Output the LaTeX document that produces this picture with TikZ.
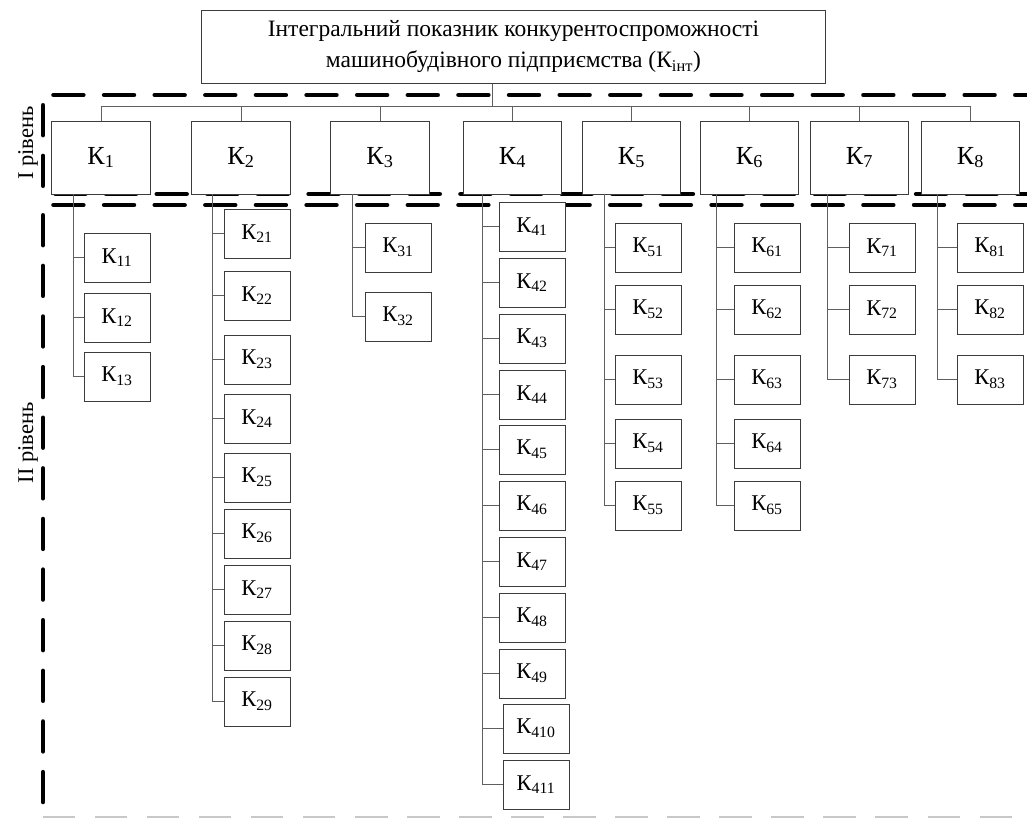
\documentclass[tikz,border=0pt]{standalone}
\usepackage{fontspec}
\setmainfont{Liberation Serif}
\usepackage{tikz}
\definecolor{edge}{RGB}{60, 60, 60}
\definecolor{wire}{RGB}{95, 95, 95}
\definecolor{faint}{RGB}{200, 200, 200}

\begin{document}
\begin{tikzpicture}[x=0.025cm, y=-0.025cm,
  tier/.style={draw=edge, fill=white, line width=0.7pt, inner sep=0pt,
    minimum width=2.45cm, minimum height=1.825cm, font=\fontsize{18.5}{20}\selectfont},
  leaf/.style={draw=edge, fill=white, line width=0.7pt, inner sep=0pt,
    minimum width=1.65cm, minimum height=1.225cm, font=\fontsize{16}{18}\selectfont},
  link/.style={draw=wire, line width=0.6pt},
  zone/.style={line width=3.5pt, line cap=round, dash pattern=on 21pt off 15pt}]
  \path[use as bounding box, fill=white] (0, 0) rectangle (1027, 818);

  % levels
  \draw[zone] (1045, 95) -- (43, 95) -- (43, 194) -- (1045, 194);
  \draw[zone] (1045, 205) -- (43, 205) -- (43, 805);
  \draw[faint, line width=1.4pt, dash pattern=on 23pt off 14pt] (43, 817) -- (1040, 817);
  \node[rotate=90, font=\fontsize{16}{18}\selectfont] (lvl1) at (28, 143) {I рівень};
  \node[rotate=90, font=\fontsize{16}{18}\selectfont] (lvl2) at (28, 443) {II рівень};

  \node[draw=edge, fill=white, line width=0.7pt, minimum width=15.575cm, minimum height=1.825cm,
    align=center, font=\fontsize{16.7}{22}\selectfont] (kint) at (513.5, 46.5)
    {Інтегральний показник конкурентоспроможності\\машинобудівного підприємства (К\textsubscript{інт})};
  \coordinate (bus) at (492, 106);
  \draw[link] (bus |- kint.south) -- (bus);

  \foreach \i/\x in {1/101, 2/241, 3/380, 4/512.5, 5/631.5, 6/749.5, 7/859.5, 8/970.5} {
    \node[tier] (k\i) at (\x, 157.5) {К\textsubscript{\i}};
    \draw[link] (k\i.north) -- (k\i.north |- bus);
  }
  \draw[link] (k1.north |- bus) -- (k8.north |- bus);

  \foreach \i/\x in {1/73, 2/212, 3/352, 4/482, 5/604, 6/716, 7/827, 8/937}
    \coordinate (s\i) at (\x, 194);

  \foreach \j/\y in {1/257.5, 2/317.5, 3/376.5} {
    \node[leaf] (k1\j) at (117, \y) {К\textsubscript{1\j}};
    \draw[link] (s1) |- (k1\j.west);
  }
  \foreach \j/\y in {1/233.5, 2/295.5, 3/359.5, 4/418.5, 5/477.5, 6/533.5, 7/589.5, 8/645.5, 9/701.5} {
    \node[leaf] (k2\j) at (257, \y) {К\textsubscript{2\j}};
    \draw[link] (s2) |- (k2\j.west);
  }
  \foreach \j/\y in {1/247.5, 2/316.5} {
    \node[leaf] (k3\j) at (398, \y) {К\textsubscript{3\j}};
    \draw[link] (s3) |- (k3\j.west);
  }
  \foreach \j/\x/\y in {1/532/226.5, 2/532/282.5, 3/532/338.5, 4/532/394.5, 5/532/449.5, 6/532/505.5,
      7/532/561.5, 8/532/617.5, 9/532/673.5, 10/536/728.5, 11/536/784.5} {
    \node[leaf] (k4\j) at (\x, \y) {К\textsubscript{4\j}};
    \draw[link] (s4) |- (k4\j.west);
  }
  \foreach \j/\y in {1/247.5, 2/309.5, 3/379.5, 4/443.5, 5/505.5} {
    \node[leaf] (k5\j) at (648, \y) {К\textsubscript{5\j}};
    \draw[link] (s5) |- (k5\j.west);
    \node[leaf] (k6\j) at (767, \y) {К\textsubscript{6\j}};
    \draw[link] (s6) |- (k6\j.west);
  }
  \foreach \j/\y in {1/247.5, 2/309.5, 3/379.5} {
    \node[leaf] (k7\j) at (882, \y) {К\textsubscript{7\j}};
    \draw[link] (s7) |- (k7\j.west);
    \node[leaf] (k8\j) at (990, \y) {К\textsubscript{8\j}};
    \draw[link] (s8) |- (k8\j.west);
  }
\end{tikzpicture}
\end{document}
